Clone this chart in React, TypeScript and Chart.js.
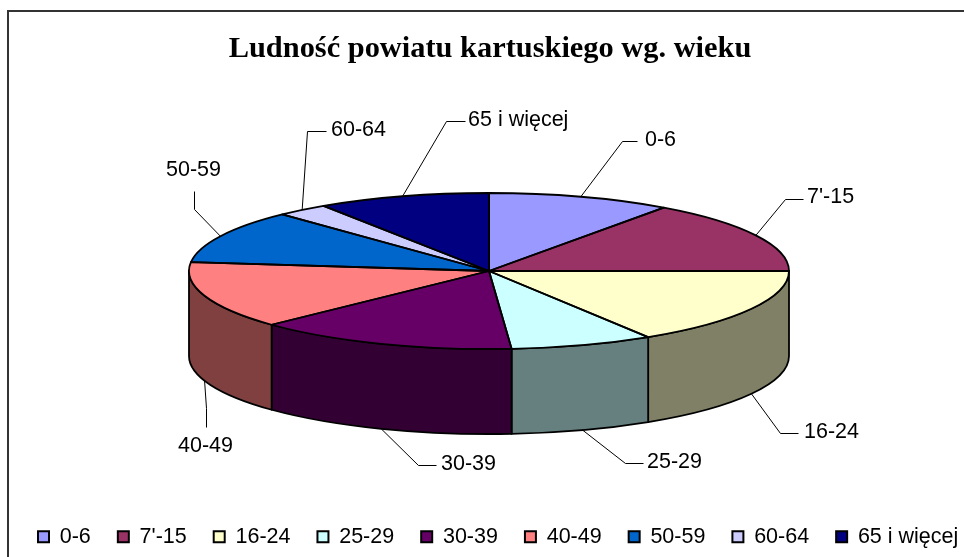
import React, { useEffect, useRef } from "react";
import { Chart, registerables } from "chart.js";

Chart.register(...registerables);

const categories = ["0-6", "7'-15", "16-24", "25-29", "30-39", "40-49", "50-59", "60-64", "65 i więcej"];
const shares = [9.9, 15.1, 16.1, 7.7, 14.1, 13.9, 11.1, 2.8, 9.3];
const topColors = ["#9999FF", "#993366", "#FFFFCC", "#CCFFFF", "#660066", "#FF8080", "#0066CC", "#CCCCFF", "#000080"];
const wallColors = ["#4D4D80", "#4D1A33", "#808066", "#668080", "#330033", "#804040", "#003366", "#666680", "#000040"];
const titleText = "Ludność powiatu kartuskiego wg. wieku";

// Leader lines: elbow x/y, end x/y, label x/y for each slice
const leaderGeometry = [
  [622, 141, 637, 141, 645, 140],
  [785, 199, 803, 199, 807, 197],
  [780, 433, 798, 433, 804, 432],
  [625, 463, 643, 463, 647, 462],
  [418, 465, 436, 465, 441, 464],
  [206, 408, 206, 427, 178, 446],
  [194, 209, 194, 191, 166, 170],
  [307, 131, 326, 131, 331, 130],
  [446, 121, 465, 121, 468, 120],
];

const CX = 489;
const CY = 271;
const RX = 300;
const RY = 78;
const DEPTH = 85;
const SANS = "'Liberation Sans', Arial, sans-serif";

const piePlugin = {
  id: "pie3d",
  afterLayout(chart: any) {
    // Title is centred over the plot, not over the (wider) legend row
    chart.titleBlock.left = 0;
    chart.titleBlock.right = 980;
  },
  beforeDraw(chart: any) {
    const { ctx } = chart;
    ctx.save();
    ctx.strokeStyle = "#333333";
    ctx.lineWidth = 2;
    ctx.strokeRect(8, 11, 1000, 600);
    ctx.restore();
  },
  beforeDatasetsDraw(chart: any) {
    const { ctx } = chart;
    const arcs = chart.getDatasetMeta(0).data;
    ctx.save();
    ctx.lineWidth = 1.8;
    ctx.strokeStyle = "#000";
    ctx.lineJoin = "round";
    arcs.forEach((arc: any, i: number) => {
      const s = Math.max(arc.startAngle, 0);
      const e = Math.min(arc.endAngle, Math.PI);
      if (e <= s) return;
      ctx.beginPath();
      ctx.ellipse(CX, CY, RX, RY, 0, s, e);
      ctx.ellipse(CX, CY + DEPTH, RX, RY, 0, e, s, true);
      ctx.closePath();
      ctx.fillStyle = wallColors[i];
      ctx.fill();
      ctx.stroke();
    });
    ctx.restore();
    const a0 = arcs[0];
    ctx.save();
    ctx.translate(CX - a0.x, CY);
    ctx.scale(1, RY / RX);
    ctx.translate(0, -a0.y);
  },
  afterDatasetsDraw(chart: any) {
    const { ctx } = chart;
    ctx.restore();
    const arcs = chart.getDatasetMeta(0).data;
    ctx.save();
    ctx.lineWidth = 1.8;
    ctx.strokeStyle = "#000";
    ctx.lineJoin = "round";
    arcs.forEach((arc: any) => {
      ctx.beginPath();
      ctx.moveTo(CX, CY);
      ctx.ellipse(CX, CY, RX, RY, 0, arc.startAngle, arc.endAngle);
      ctx.closePath();
      ctx.stroke();
    });
    ctx.restore();
    ctx.save();
    ctx.font = `21.5px ${SANS}`;
    ctx.textBaseline = "middle";
    ctx.textAlign = "left";
    arcs.forEach((arc: any, i: number) => {
      const [ex, ey, fx, fy, tx, ty] = leaderGeometry[i];
      const mid = (arc.startAngle + arc.endAngle) / 2;
      const px = CX + RX * Math.cos(mid);
      const sinMid = Math.sin(mid);
      const py = CY + RY * sinMid + (sinMid > 0 ? DEPTH : 0);
      ctx.strokeStyle = "#000";
      ctx.lineWidth = 1;
      ctx.beginPath();
      ctx.moveTo(px, py);
      ctx.lineTo(ex + 0.5, ey + 0.5);
      ctx.lineTo(fx + 0.5, fy + 0.5);
      ctx.stroke();
      ctx.fillStyle = "#000";
      ctx.fillText(categories[i], tx, ty);
    });
    ctx.restore();
  },
};

export default function App() {
  const ref = useRef<HTMLCanvasElement>(null);
  useEffect(() => {
    const chart = new Chart(ref.current as HTMLCanvasElement, {
      type: "pie",
      data: {
        labels: categories,
        datasets: [
          {
            data: shares,
            backgroundColor: topColors,
            borderWidth: 0,
            clip: false,
          } as any,
        ],
      },
      plugins: [piePlugin],
      options: {
        responsive: false,
        animation: false,
        events: [],
        radius: RX,
        layout: { padding: { left: 11, right: -40, top: 0, bottom: -0.5 } },
        plugins: {
          tooltip: { enabled: false },
          title: {
            display: true,
            text: titleText,
            color: "#000",
            font: { family: "'Liberation Serif', 'Times New Roman', serif", size: 30.4, weight: "bold" },
            padding: { top: 31, bottom: 10 },
          },
          legend: {
            display: true,
            position: "bottom",
            align: "start",
            labels: {
              color: "#000",
              font: { family: SANS, size: 21.5 },
              boxWidth: 11,
              boxHeight: 11,
              padding: 27,
              generateLabels: () =>
                categories.map((text, i) => ({
                  text,
                  fillStyle: topColors[i],
                  strokeStyle: "#000",
                  lineWidth: 2,
                  hidden: false,
                  index: i,
                })),
            },
          },
        },
      } as any,
    });
    return () => chart.destroy();
  }, []);
  return (
    <canvas
      ref={ref}
      width={964}
      height={557}
      style={{ position: "absolute", left: 0, top: 0, display: "block" }}
    />
  );
}
